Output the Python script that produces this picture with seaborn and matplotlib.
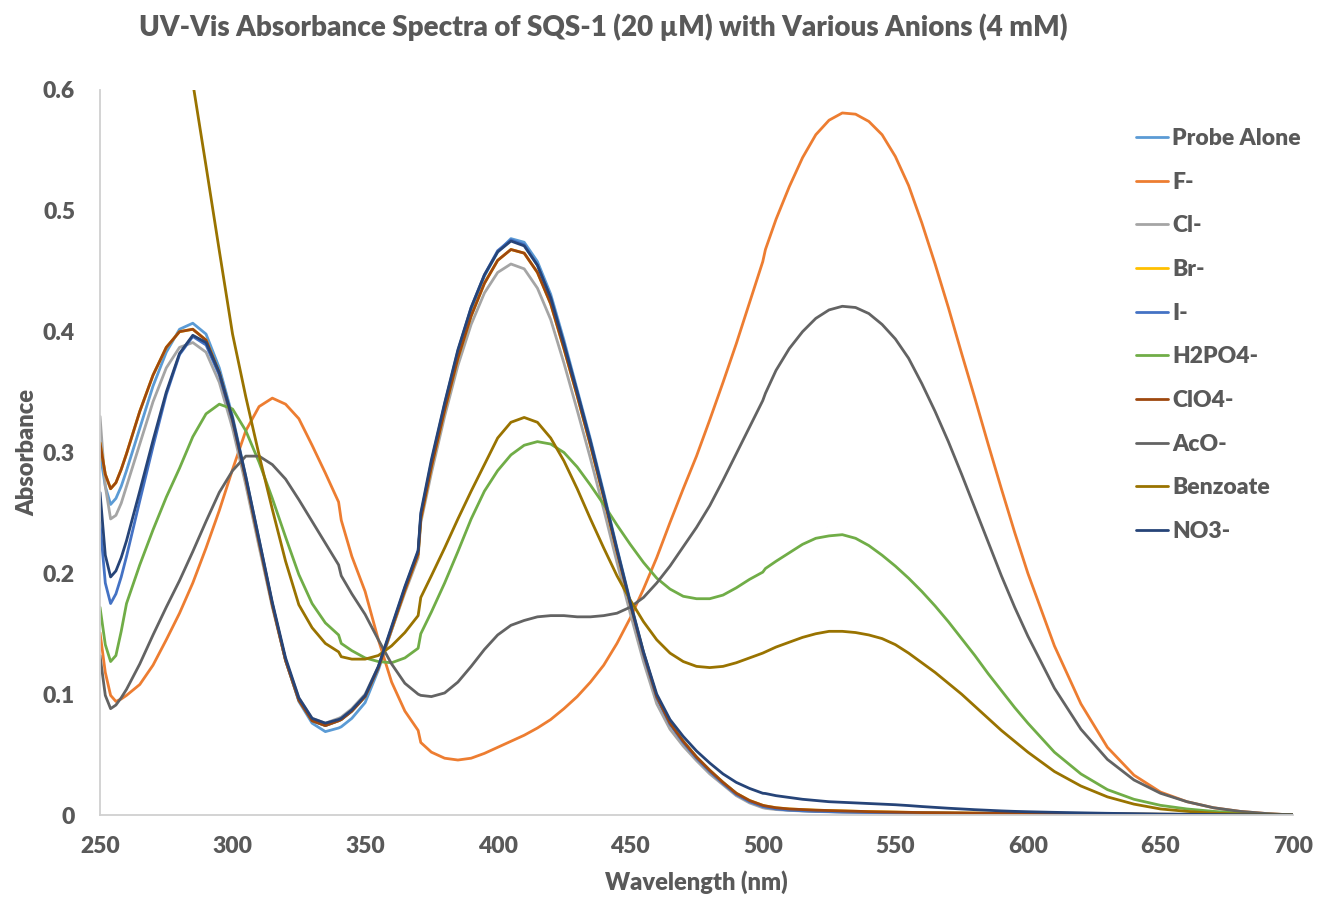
import matplotlib
matplotlib.use("Agg")
import matplotlib.pyplot as plt
import seaborn as sns
import pandas as pd

# Wavelength grid (nm); extra points at 341, 371 and 501 nm capture the
# detector/lamp changeover steps of the spectrometer.
wavelength = ([250, 252, 254, 256, 258, 260]
              + list(range(265, 341, 5)) + [341]
              + list(range(345, 371, 5)) + [371]
              + list(range(375, 501, 5)) + [501]
              + list(range(505, 601, 5))
              + list(range(610, 701, 10)))

# Absorbance of SQS-1 alone and with each anion
probe_alone = [
    0.300, 0.272, 0.257, 0.262, 0.272, 0.285,
    0.320, 0.355, 0.383, 0.402, 0.407, 0.398, 0.370, 0.330, 0.280, 0.228, 0.175, 0.128, 0.094, 0.076, 0.069, 0.072,
    0.073,
    0.080, 0.093, 0.120, 0.153, 0.186, 0.216,
    0.246,
    0.290, 0.338, 0.382, 0.418, 0.446, 0.466, 0.477, 0.474, 0.458, 0.431, 0.393, 0.352, 0.311, 0.267, 0.221, 0.177,
    0.135, 0.098, 0.076, 0.061, 0.048, 0.037, 0.027, 0.018, 0.011, 0.007,
    0.0065,
    0.005, 0.004, 0.0035, 0.003, 0.0028, 0.0025, 0.0023, 0.0021, 0.002, 0.0019, 0.0018, 0.0017, 0.0016, 0.0015,
    0.0014, 0.0013, 0.0012, 0.0011, 0.001, 0.001,
    0.0009, 0.0008, 0.0007, 0.0006, 0.0005, 0.0004, 0.0003, 0.0002, 0.0001, 0.0,
]

f_minus = [
    0.151, 0.118, 0.099, 0.094, 0.096, 0.099,
    0.108, 0.124, 0.145, 0.167, 0.192, 0.221, 0.252, 0.286, 0.318, 0.338, 0.345, 0.340, 0.328, 0.306, 0.283, 0.259,
    0.244,
    0.214, 0.185, 0.145, 0.110, 0.086, 0.070,
    0.060,
    0.052, 0.047, 0.0455, 0.047, 0.051, 0.056, 0.061, 0.066, 0.072, 0.079, 0.088, 0.098, 0.110, 0.124, 0.142, 0.163,
    0.187, 0.213, 0.242, 0.270, 0.297, 0.327, 0.358, 0.390, 0.424, 0.458,
    0.468,
    0.493, 0.520, 0.544, 0.563, 0.575, 0.581, 0.580, 0.574, 0.563, 0.545, 0.521, 0.490, 0.456, 0.420,
    0.382, 0.345, 0.307, 0.270, 0.234, 0.200,
    0.140, 0.092, 0.056, 0.033, 0.019, 0.011, 0.006, 0.003, 0.0012, 0.0,
]

cl_minus = [
    0.330, 0.272, 0.245, 0.248, 0.258, 0.272,
    0.307, 0.342, 0.370, 0.387, 0.391, 0.383, 0.358, 0.320, 0.273, 0.222, 0.172, 0.128, 0.097, 0.080, 0.076, 0.080,
    0.081,
    0.088, 0.100, 0.123, 0.153, 0.184, 0.213,
    0.242,
    0.283, 0.330, 0.372, 0.406, 0.432, 0.449, 0.456, 0.452, 0.436, 0.410, 0.374, 0.335, 0.295, 0.253, 0.209, 0.167,
    0.127, 0.092, 0.071, 0.057, 0.045, 0.034, 0.025, 0.016, 0.010, 0.006,
    0.0055,
    0.0045, 0.0038, 0.0033, 0.0029, 0.0026, 0.0024, 0.0022, 0.002, 0.0019, 0.0018, 0.0017, 0.0016, 0.0015, 0.0014,
    0.0013, 0.0012, 0.0011, 0.001, 0.001, 0.0009,
    0.0008, 0.0007, 0.0006, 0.0005, 0.0004, 0.0003, 0.0002, 0.0001, 0.0001, 0.0,
]

i_minus = [
    0.242, 0.192, 0.175, 0.183, 0.197, 0.214,
    0.260, 0.305, 0.348, 0.381, 0.396, 0.389, 0.364, 0.326, 0.278, 0.226, 0.174, 0.128, 0.095, 0.078, 0.074, 0.078,
    0.079,
    0.086, 0.098, 0.122, 0.155, 0.188, 0.218,
    0.248,
    0.292, 0.340, 0.384, 0.420, 0.447, 0.467, 0.476, 0.472, 0.455, 0.428, 0.390, 0.350, 0.309, 0.265, 0.219, 0.175,
    0.133, 0.097, 0.075, 0.060, 0.047, 0.036, 0.026, 0.017, 0.011, 0.007,
    0.0065,
    0.005, 0.004, 0.0035, 0.003, 0.0028, 0.0025, 0.0023, 0.0021, 0.002, 0.0019, 0.0018, 0.0017, 0.0016, 0.0015,
    0.0014, 0.0013, 0.0012, 0.0011, 0.001, 0.001,
    0.0009, 0.0008, 0.0007, 0.0006, 0.0005, 0.0004, 0.0003, 0.0002, 0.0001, 0.0,
]

h2po4_minus = [
    0.172, 0.141, 0.127, 0.132, 0.152, 0.175,
    0.207, 0.236, 0.263, 0.287, 0.313, 0.332, 0.340, 0.336, 0.318, 0.292, 0.262, 0.230, 0.199, 0.175, 0.159, 0.149,
    0.142,
    0.136, 0.130, 0.127, 0.126, 0.130, 0.138,
    0.150,
    0.168, 0.192, 0.218, 0.245, 0.268, 0.285, 0.298, 0.306, 0.309, 0.307, 0.300, 0.288, 0.273, 0.257, 0.240, 0.224,
    0.209, 0.196, 0.187, 0.181, 0.179, 0.179, 0.182, 0.188, 0.195, 0.201,
    0.204,
    0.210, 0.217, 0.224, 0.229, 0.231, 0.232, 0.229, 0.223, 0.215, 0.206, 0.196, 0.185, 0.173, 0.160,
    0.146, 0.132, 0.117, 0.103, 0.089, 0.076,
    0.052, 0.034, 0.021, 0.013, 0.008, 0.005, 0.003, 0.0015, 0.0007, 0.0,
]

clo4_minus = [
    0.308, 0.282, 0.270, 0.275, 0.286, 0.299,
    0.334, 0.364, 0.387, 0.400, 0.402, 0.393, 0.366, 0.327, 0.278, 0.226, 0.174, 0.128, 0.095, 0.078, 0.074, 0.078,
    0.079,
    0.086, 0.098, 0.122, 0.154, 0.186, 0.216,
    0.245,
    0.288, 0.335, 0.378, 0.413, 0.440, 0.459, 0.468, 0.465, 0.449, 0.423, 0.386, 0.347, 0.306, 0.263, 0.218, 0.175,
    0.134, 0.098, 0.076, 0.061, 0.048, 0.037, 0.027, 0.018, 0.012, 0.008,
    0.0075,
    0.006, 0.005, 0.0045, 0.004, 0.0037, 0.0034, 0.0031, 0.0028, 0.0026, 0.0024, 0.0022, 0.002, 0.0019, 0.0018,
    0.0017, 0.0016, 0.0015, 0.0014, 0.0013, 0.0012,
    0.001, 0.0009, 0.0008, 0.0007, 0.0006, 0.0005, 0.0004, 0.0003, 0.0001, 0.0,
]

# The Br- trace coincides with the ClO4- trace over the whole range
br_minus = list(clo4_minus)

aco_minus = [
    0.132, 0.099, 0.088, 0.091, 0.097, 0.104,
    0.125, 0.149, 0.172, 0.194, 0.218, 0.243, 0.267, 0.285, 0.297, 0.297, 0.290, 0.278, 0.261, 0.243, 0.225, 0.207,
    0.198,
    0.183, 0.166, 0.145, 0.125, 0.109, 0.100,
    0.099,
    0.098, 0.101, 0.110, 0.123, 0.137, 0.149, 0.157, 0.161, 0.164, 0.165, 0.165, 0.164, 0.164, 0.165, 0.167, 0.172,
    0.180, 0.192, 0.206, 0.222, 0.238, 0.256, 0.277, 0.299, 0.321, 0.343,
    0.349,
    0.368, 0.386, 0.400, 0.411, 0.418, 0.421, 0.420, 0.415, 0.406, 0.394, 0.378, 0.357, 0.334, 0.309,
    0.282, 0.254, 0.226, 0.198, 0.172, 0.148,
    0.105, 0.071, 0.046, 0.029, 0.018, 0.011, 0.006, 0.003, 0.0012, 0.0,
]

benzoate = [
    1.200, 1.150, 1.110, 1.070, 1.030, 0.990,
    0.900, 0.820, 0.745, 0.672, 0.606, 0.537, 0.467, 0.398, 0.346, 0.298, 0.253, 0.210, 0.174, 0.155, 0.142, 0.135,
    0.131,
    0.129, 0.129, 0.132, 0.140, 0.151, 0.165,
    0.180,
    0.198, 0.221, 0.245, 0.268, 0.290, 0.312, 0.325, 0.329, 0.325, 0.312, 0.293, 0.270, 0.245, 0.221, 0.198, 0.178,
    0.160, 0.145, 0.134, 0.127, 0.123, 0.122, 0.123, 0.126, 0.130, 0.134,
    0.135,
    0.139, 0.143, 0.147, 0.150, 0.152, 0.152, 0.151, 0.149, 0.146, 0.141, 0.134, 0.126, 0.118, 0.109,
    0.100, 0.090, 0.080, 0.070, 0.061, 0.052,
    0.036, 0.024, 0.015, 0.009, 0.005, 0.003, 0.0015, 0.0008, 0.0003, 0.0,
]

no3_minus = [
    0.267, 0.215, 0.197, 0.202, 0.213, 0.227,
    0.268, 0.310, 0.350, 0.382, 0.397, 0.391, 0.366, 0.328, 0.280, 0.228, 0.176, 0.130, 0.097, 0.080, 0.076, 0.079,
    0.080,
    0.087, 0.099, 0.123, 0.156, 0.189, 0.219,
    0.250,
    0.294, 0.341, 0.385, 0.420, 0.447, 0.466, 0.475, 0.471, 0.455, 0.428, 0.390, 0.350, 0.309, 0.265, 0.220, 0.176,
    0.135, 0.100, 0.079, 0.065, 0.053, 0.043, 0.034, 0.027, 0.022, 0.018,
    0.0178,
    0.016, 0.0145, 0.013, 0.012, 0.011, 0.0105, 0.010, 0.0095, 0.009, 0.0085, 0.0078, 0.007, 0.0063, 0.0056,
    0.005, 0.0044, 0.0039, 0.0034, 0.003, 0.0027,
    0.0022, 0.0018, 0.0014, 0.0011, 0.0008, 0.0006, 0.0004, 0.0002, 0.0001, 0.0,
]

series_names = ["Probe Alone", "F-", "Cl-", "Br-", "I-", "H2PO4-", "ClO4-", "AcO-", "Benzoate", "NO3-"]
series_values = [probe_alone, f_minus, cl_minus, br_minus, i_minus, h2po4_minus,
                 clo4_minus, aco_minus, benzoate, no3_minus]
series_colors = ["#5B9BD5", "#ED7D31", "#A5A5A5", "#FFC000", "#4472C4", "#70AD47",
                 "#9E480E", "#636363", "#997300", "#264478"]

x_ticks = [250, 300, 350, 400, 450, 500, 550, 600, 650, 700]
y_ticks = [0, 0.1, 0.2, 0.3, 0.4, 0.5, 0.6]
y_tick_labels = ["0", "0.1", "0.2", "0.3", "0.4", "0.5", "0.6"]

frames = []
for name, vals in zip(series_names, series_values):
    assert len(vals) == len(wavelength), name
    frames.append(pd.DataFrame({"Wavelength": wavelength, "Absorbance": vals, "Sample": name}))
spectra = pd.concat(frames, ignore_index=True)

sns.set_theme(style="white")
plt.rcParams["font.family"] = ["Lato", "DejaVu Sans"]
text_gray = "#595959"
axis_gray = "#D0D0D0"
weight = "heavy"

fig = plt.figure(figsize=(13.17, 8.99), dpi=100)
ax = fig.add_axes([100 / 1317, 1 - 815 / 899, 1193 / 1317, 725 / 899])

sns.lineplot(data=spectra, x="Wavelength", y="Absorbance", hue="Sample",
             hue_order=series_names, palette=dict(zip(series_names, series_colors)),
             estimator=None, sort=False, linewidth=2.0, ax=ax)
for line in ax.get_lines():
    line.set_solid_joinstyle("round")

ax.set_xlim(250, 700)
ax.set_ylim(0, 0.6)
ax.set_xticks(x_ticks)
ax.set_yticks(y_ticks)
ax.set_yticklabels(y_tick_labels)
ax.tick_params(axis="both", length=0, labelsize=16.5, labelcolor=text_gray)
ax.tick_params(axis="x", pad=15)
ax.tick_params(axis="y", pad=18)
for lbl in ax.get_xticklabels() + ax.get_yticklabels():
    lbl.set_fontweight(weight)

for side in ["top", "right"]:
    ax.spines[side].set_visible(False)
for side in ["left", "bottom"]:
    ax.spines[side].set_color(axis_gray)
    ax.spines[side].set_linewidth(1.3)

ax.set_xlabel("Wavelength (nm)", fontsize=17, fontweight=weight, color=text_gray, labelpad=10)
ax.set_ylabel("Absorbance", fontsize=17, fontweight=weight, color=text_gray, labelpad=3.5)

fig.text(603 / 1317, 1 - 27 / 899, "UV-Vis Absorbance Spectra of SQS-1 (20 µM) with Various Anions (4 mM)",
         ha="center", va="center", fontsize=20, fontweight=weight, color=text_gray)

sns.move_legend(ax, loc="upper left", bbox_to_anchor=(1136 / 1317, 1 - 128 / 899),
                bbox_transform=fig.transFigure, frameon=False, title=None,
                prop={"size": 16.5, "weight": weight},
                handlelength=1.4, handletextpad=0.17,
                labelspacing=0.99, borderpad=0, borderaxespad=0)
for txt in ax.get_legend().get_texts():
    txt.set_color(text_gray)

fig.savefig("out.png", dpi=100, facecolor="white")
